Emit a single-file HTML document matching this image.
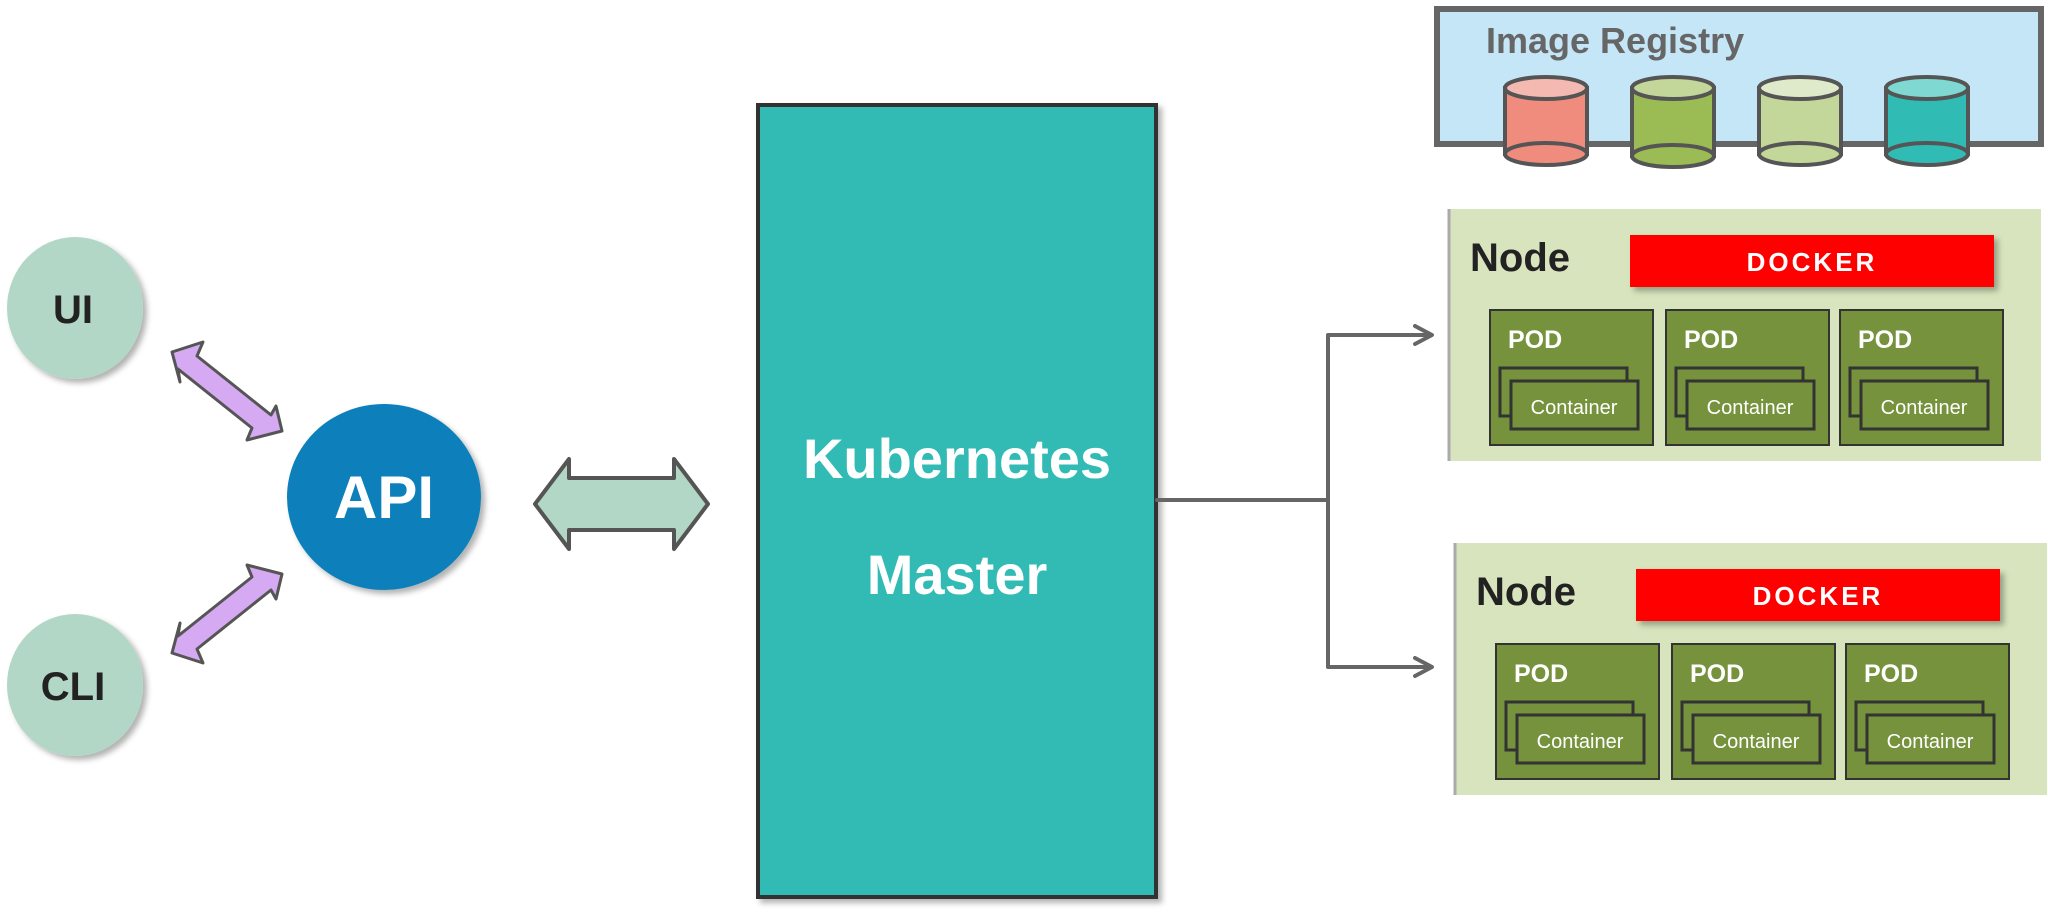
<!DOCTYPE html>
<html><head><meta charset="utf-8"><style>
html,body{margin:0;padding:0;background:#fff;}
svg{display:block;}
text{font-family:"Liberation Sans",sans-serif;font-weight:bold;}
</style></head><body>
<svg width="2048" height="920" viewBox="0 0 2048 920" xmlns="http://www.w3.org/2000/svg">
<defs>
<filter id="sh" x="-10%" y="-10%" width="130%" height="130%"><feDropShadow dx="4" dy="4" stdDeviation="3" flood-color="#000" flood-opacity="0.3"/></filter>
<g id="pod">
  <rect x="0" y="0" width="163" height="135" fill="#76923c" stroke="#333" stroke-width="2"/>
  <text x="18" y="38" font-size="25" fill="#fff">POD</text>
  <rect x="10" y="58" width="127" height="48" fill="#76923c" stroke="#333" stroke-width="3"/>
  <rect x="21" y="71" width="127" height="48" fill="#76923c" stroke="#333" stroke-width="3"/>
  <text x="84" y="104" font-size="20" fill="#fff" text-anchor="middle" style="font-weight:normal">Container</text>
</g>
<g id="node">
  <rect x="0" y="0" width="593" height="252" fill="#d7e4bd"/>
  <line x1="1" y1="0" x2="1" y2="252" stroke="#aaa" stroke-width="3"/>
  <text x="22" y="62" font-size="40" fill="#222">Node</text>
  <rect x="182" y="26" width="364" height="52" fill="#f00" filter="url(#sh)"/>
  <text x="364" y="62" font-size="26" fill="#fff" text-anchor="middle" letter-spacing="3">DOCKER</text>
  <use href="#pod" x="42" y="101"/>
  <use href="#pod" x="218" y="101"/>
  <use href="#pod" x="392" y="101"/>
</g>
</defs>
<ellipse cx="75" cy="308" rx="68" ry="71" fill="#b3d7c6" filter="url(#sh)"/>
<text x="73" y="323" font-size="40" fill="#222" text-anchor="middle">UI</text>
<ellipse cx="75" cy="685" rx="68" ry="71" fill="#b3d7c6" filter="url(#sh)"/>
<text x="73" y="700" font-size="40" fill="#222" text-anchor="middle">CLI</text>
<ellipse cx="384" cy="497" rx="97" ry="93" fill="#0f7fba" filter="url(#sh)"/>
<text x="384" y="518" font-size="60" fill="#fff" text-anchor="middle">API</text>
<g fill="#d6aaf3" stroke="#555" stroke-width="3" stroke-linejoin="round">
<polygon points="172,352 203,342 197,356 271,415 276,406 282,431 247,440 252,428 178,369 180,382"/>
<polygon points="172,653 203,663 197,649 271,590 276,599 282,574 247,565 252,577 178,636 180,623"/>
</g>
<polygon points="535,504 569,459 569,478 674,478 674,459 708,504 674,549 674,530 569,530 569,549" fill="#b3d7c6" stroke="#555" stroke-width="4" stroke-linejoin="round"/>
<rect x="758" y="105" width="398" height="792" fill="#31bbb5" stroke="#333" stroke-width="4" filter="url(#sh)"/>
<text x="957" y="478" font-size="56" fill="#fff" text-anchor="middle">Kubernetes</text>
<text x="957" y="594" font-size="56" fill="#fff" text-anchor="middle">Master</text>
<g stroke="#666" stroke-width="4" fill="none" stroke-linejoin="round" stroke-linecap="round">
<path d="M1157,500 H1328 M1328,335 V667 M1328,335 H1430 M1328,667 H1430"/>
<path d="M1415,326 L1432,335 L1415,344 M1415,658 L1432,667 L1415,676"/>
</g>
<rect x="1437" y="9" width="604" height="135" fill="#c5e6f7" stroke="#666" stroke-width="6"/>
<text x="1486" y="53" font-size="36" fill="#666">Image Registry</text>
<g stroke="#555" stroke-width="4">
<g><rect x="1505" y="88" width="82" height="66" fill="#ef8c7e"/><ellipse cx="1546" cy="154" rx="41" ry="11" fill="#ef8c7e"/><ellipse cx="1546" cy="88" rx="41" ry="11" fill="#f4b9b0"/></g>
<g><rect x="1632" y="88" width="82" height="68" fill="#9bbb54"/><ellipse cx="1673" cy="156" rx="41" ry="11" fill="#9bbb54"/><ellipse cx="1673" cy="88" rx="41" ry="11" fill="#c4d79b"/></g>
<g><rect x="1759" y="88" width="82" height="66" fill="#c4d79b"/><ellipse cx="1800" cy="154" rx="41" ry="11" fill="#c4d79b"/><ellipse cx="1800" cy="88" rx="41" ry="11" fill="#dfeacb"/></g>
<g><rect x="1886" y="88" width="82" height="66" fill="#31bbb5"/><ellipse cx="1927" cy="154" rx="41" ry="11" fill="#31bbb5"/><ellipse cx="1927" cy="88" rx="41" ry="11" fill="#80d8d3"/></g>
</g>
<use href="#node" x="1448" y="209"/>
<use href="#node" x="1454" y="543"/>
</svg>
</body></html>
